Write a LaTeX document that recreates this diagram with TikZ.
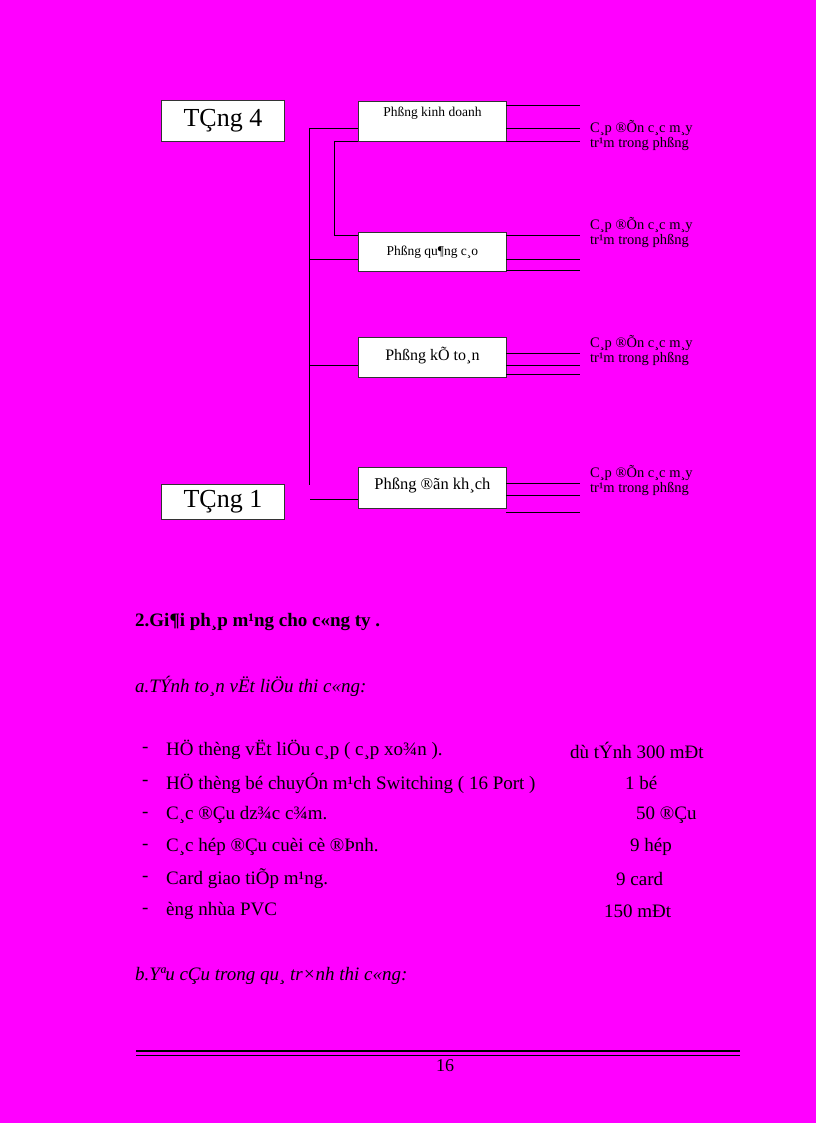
\documentclass[tikz,border=0pt]{standalone}
\usepackage{fontspec}
\setmainfont{Liberation Serif}
\definecolor{pg}{RGB}{255,0,255}
\begin{document}
\begin{tikzpicture}[x=1pt,y=-1pt,
  bx/.style={draw=black!80,fill=white,line width=0.8pt,minimum width=148pt,minimum height=40pt,inner sep=0pt,anchor=north west},
  big/.style={draw=black!80,fill=white,line width=0.8pt,minimum width=123pt,inner sep=0pt,anchor=north west,font=\fontsize{26}{28}\selectfont},
  ln/.style={line width=0.7pt},
  lab/.style={anchor=west,font=\fontsize{14.5}{16}\selectfont,inner sep=0pt},
  body/.style={anchor=west,font=\fontsize{19}{21}\selectfont,inner sep=0pt}]
\fill[pg] (0,0) rectangle (816,1123);
\useasboundingbox (0,0) rectangle (816,1123);
\node[big,minimum height=41pt] (t4) at (161,100) {TÇng 4};
\node[big,minimum height=35pt] (t1) at (161,484) {TÇng 1};
\node[bx,font=\fontsize{13.5}{15}\selectfont,text depth=20pt] (b1) at (358,101) {Phßng kinh doanh};
\node[bx,minimum height=39pt,font=\fontsize{13.5}{15}\selectfont] (b2) at (358,232) {Phßng qu¶ng c¸o};
\node[bx,font=\fontsize{16}{18}\selectfont,text depth=8pt] (b3) at (358,337) {Phßng  kÕ to¸n};
\node[bx,minimum height=41pt,font=\fontsize{16.5}{18}\selectfont,text depth=8pt] (b4) at (358,467) {Phßng  ®ãn kh¸ch};
% trunk
\coordinate (top) at (309,128); \coordinate (bot) at (309,485);
\draw[ln] (top) -- (bot);
\draw[ln] (top) -- (b1.west |- top);
\draw[ln] (309,259) -- (b2.west |- 0,259);
\draw[ln] (309,365) -- (b3.west |- 0,365);
\draw[ln] (310,499) -- (b4.west |- 0,499);
\draw[ln] (b1.south west) ++(-24,0) coordinate (c1) -- (b1.south west);
\draw[ln] (c1) -- (334,235) -- (b2.west |- 0,235);
% right lines
\foreach \y in {105,128,141,235,259,270,353,365,374,483,495,512}
  \draw[ln] (506,\y) -- (580,\y);
\foreach \y in {128,225,343,473}{
  \node[lab] at (590,\y) {C¸p  ®Õn c¸c m¸y};
  \node[lab] at (590,\y+16) {tr¹m trong phßng};}
% text
\node[body,font=\fontsize{19}{21}\selectfont\bfseries] (h) at (135,622) {2.Gi¶i ph¸p  m¹ng cho c«ng ty .};
\node[body,font=\fontsize{19}{21}\selectfont\itshape] (a) at (135,686) {a.TÝnh to¸n vËt liÖu thi c«ng:};
\foreach \y/\t in {750/{HÖ thèng vËt liÖu  c¸p (  c¸p xo¾n ).},
  783/{HÖ thèng bé chuyÓn m¹ch Switching  ( 16 Port )},
  815/{C¸c ®Çu dz¾c c¾m.},
  847/{C¸c hép ®Çu cuèi cè ®Þnh.},
  879/{Card giao tiÕp m¹ng.},
  911/{èng nhùa PVC}}{
  \node[body] at (142,\y) {-};
  \node[body] at (166,\y) {\t};}
\node[body] at (570,750) {dù tÝnh 300 mÐt};
\node[body] at (625,783) {1 bé};
\node[body] at (636,815) {50  ®Çu};
\node[body] at (630,847) {9 hép};
\node[body] at (616,879) {9 card};
\node[body] at (604,911) {150 mÐt};
\node[body,font=\fontsize{19}{21}\selectfont\itshape] (b) at (135,976) {b.Yªu cÇu trong qu¸ tr×nh thi c«ng:};
\draw[line width=1.2pt] (136,1051) -- (740,1051);
\draw[line width=0.6pt] (136,1055) -- (740,1055);
\node[font=\fontsize{18}{20}\selectfont] (pg) at (445,1066) {16};
\end{tikzpicture}
\end{document}
